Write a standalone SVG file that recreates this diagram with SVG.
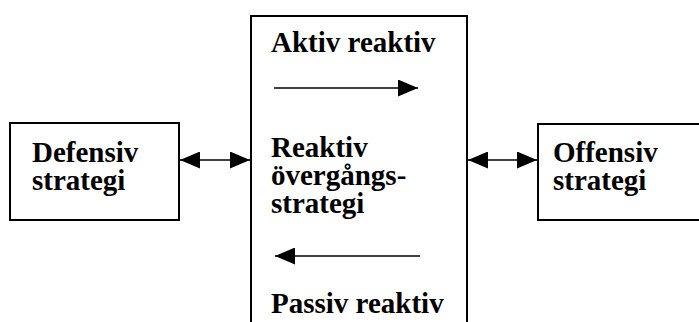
<svg xmlns="http://www.w3.org/2000/svg" width="699" height="322" viewBox="0 0 699 322">
<style>
.box{fill:#fff;stroke:#000;stroke-width:2}
.ln{stroke:#000;stroke-width:1.6;fill:none}
</style>
<defs>
<marker id="ah" viewBox="0 0 20 17" refX="20" refY="8.5" markerWidth="20" markerHeight="17" markerUnits="userSpaceOnUse" orient="auto-start-reverse">
<path d="M0,0 L20,8.5 L0,17 z" fill="#000"/>
</marker>
</defs>
<rect width="699" height="322" fill="#fff"/>
<g id="center">
<path class="box" d="M251,335 V16 H467 V335"/>
<text x="271" y="52" font-family="Liberation Serif" font-weight="bold" font-size="29">Aktiv reaktiv</text>
<text x="271" y="157" font-family="Liberation Serif" font-weight="bold" font-size="29">Reaktiv</text>
<text x="271" y="185" font-family="Liberation Serif" font-weight="bold" font-size="29">övergångs-</text>
<text x="271" y="213" font-family="Liberation Serif" font-weight="bold" font-size="29">strategi</text>
<text x="271" y="313" font-family="Liberation Serif" font-weight="bold" font-size="29">Passiv reaktiv</text>
</g>
<g id="defensiv">
<rect class="box" x="10" y="123" width="169" height="97"/>
<text x="32" y="162" font-family="Liberation Serif" font-weight="bold" font-size="29">Defensiv</text>
<text x="32" y="190" font-family="Liberation Serif" font-weight="bold" font-size="29">strategi</text>
</g>
<g id="offensiv">
<rect class="box" x="538" y="124" width="175" height="96"/>
<text x="553" y="162" font-family="Liberation Serif" font-weight="bold" font-size="29">Offensiv</text>
<text x="553" y="190" font-family="Liberation Serif" font-weight="bold" font-size="29">strategi</text>
</g>
<g id="connectors">
<line class="ln" x1="180" y1="160" x2="250" y2="160" marker-start="url(#ah)" marker-end="url(#ah)"/>
<line class="ln" x1="468" y1="160" x2="537" y2="160" marker-start="url(#ah)" marker-end="url(#ah)"/>
<line class="ln" x1="274" y1="88" x2="418" y2="88" marker-end="url(#ah)"/>
<line class="ln" x1="420" y1="256" x2="275" y2="256" marker-end="url(#ah)"/>
</g>
</svg>
